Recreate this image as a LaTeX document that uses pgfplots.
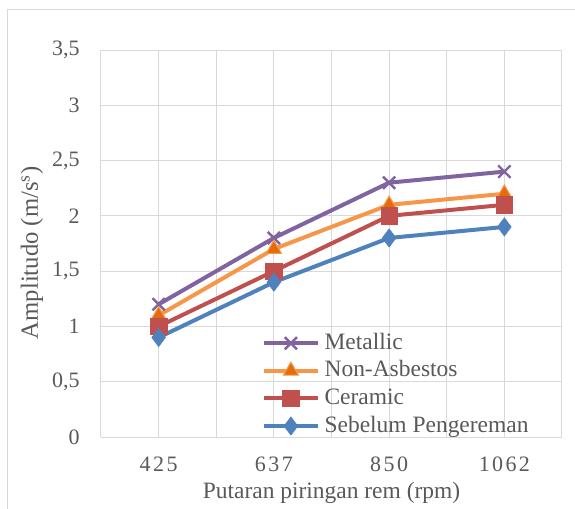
\documentclass[border=0pt]{standalone}
\usepackage{fontspec}
\setmainfont{Liberation Serif}
\usepackage{pgfplots}
\pgfplotsset{compat=1.18}

\definecolor{cmet}{HTML}{8064A2}
\definecolor{cnon}{HTML}{F79646}
\definecolor{cnonfill}{HTML}{E46C0A}
\definecolor{ccer}{HTML}{C0504D}
\definecolor{cseb}{HTML}{4F81BD}
\definecolor{gridgray}{HTML}{D9D9D9}
\definecolor{textgray}{HTML}{595959}

\begin{document}
\begin{tikzpicture}
\useasboundingbox (-75.75pt,-53.25pt) rectangle (355.5pt,327.75pt);
% chart area border (only left and top fall inside the picture)
\draw[gridgray, line width=0.75pt] (-69.75pt,-70pt) -- (-69.75pt,320.25pt) -- (370pt,320.25pt);
\begin{axis}[
  at={(0,0)}, anchor=south west,
  scale only axis,
  width=345.75pt, height=290.25pt,
  xmin=-0.5, xmax=3.5,
  ymin=0, ymax=3.5,
  xtick={0,1,2,3},
  xticklabels={4\hspace{1.8pt}2\hspace{1.8pt}5, 6\hspace{1.8pt}3\hspace{1.8pt}7, 8\hspace{1.8pt}5\hspace{1.8pt}0, 1\hspace{1.8pt}0\hspace{1.8pt}6\hspace{1.8pt}2},
  minor xtick={-0.5,0.5,1.5,2.5,3.5},
  ytick={0,0.5,1,1.5,2,2.5,3,3.5},
  yticklabels={0,{0,5},1,{1,5},2,{2,5},3,{3,5}},
  xmajorgrids, xminorgrids, ymajorgrids,
  grid style={line width=0.75pt, gridgray},
  minor grid style={line width=0.75pt, gridgray},
  major tick length=0pt, minor tick length=0pt,
  axis line style={draw=none},
  tick label style={font=\fontsize{16.5}{19}\selectfont, text=textgray, inner sep=0pt},
  xticklabel style={anchor=north, yshift=-14.4pt},
  yticklabel style={anchor=east, xshift=-15.75pt},
  xlabel={Putaran piringan rem (rpm)},
  ylabel={Amplitudo (m/s$^{\mathrm{s}}$)},
  label style={font=\fontsize{17.6}{21}\selectfont, text=textgray, inner sep=0pt},
  xlabel style={at={(axis description cs:0.5,0)}, anchor=base, yshift=-45.75pt},
  ylabel style={at={(axis description cs:0,0.5)}, anchor=center, yshift=51.75pt, xshift=-7pt, font=\fontsize{18.5}{22}\selectfont},
  legend cell align=left,
  legend style={
    at={(0.3492,0.2722)}, anchor=north west,
    draw=none, fill=none, inner sep=0pt,
    row sep=3.7pt, column sep=3.75pt,
    font=\fontsize{17.6}{21}\selectfont, text=textgray,
    nodes={inner sep=0pt, text height=13pt, text depth=4pt},
  },
  legend image code/.code={
    \draw[mark repeat=2, mark phase=2, #1] plot coordinates {(0pt,0pt) (20pt,0pt) (40pt,0pt)};
    \path[draw=none, fill=none] (0pt,-8pt) rectangle (40pt,8pt);
  },
]

\addplot[cmet, line width=3pt, mark=x, mark size=6.5pt, mark options={line width=1.8pt}]
coordinates {(0,1.2) (1,1.8) (2,2.3) (3,2.4)};

\addplot[cnon, line width=3pt, mark=triangle*, mark size=6.5pt, mark options={fill=cnonfill, draw=cnon, line width=0.8pt}]
coordinates {(0,1.1) (1,1.7) (2,2.1) (3,2.2)};

\addplot[ccer, line width=3pt, mark=square*, mark size=6.2pt, mark options={fill=ccer, draw=ccer, line width=0.5pt}]
coordinates {(0,1.0) (1,1.5) (2,2.0) (3,2.1)};

\addplot[cseb, line width=3pt, mark=diamond*, mark size=6.8pt, mark options={fill=cseb, draw=cseb, line width=0.5pt}]
coordinates {(0,0.9) (1,1.4) (2,1.8) (3,1.9)};

\legend{Metallic,Non-Asbestos,Ceramic,Sebelum Pengereman}
\end{axis}
\end{tikzpicture}
\end{document}
